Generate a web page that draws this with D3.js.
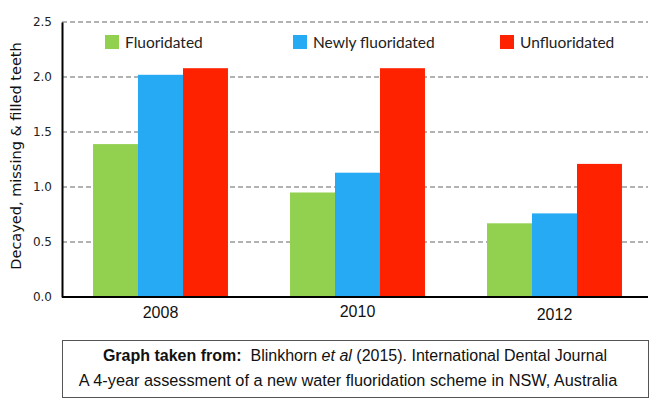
<!DOCTYPE html>
<html>
<head>
<meta charset="utf-8">
<script src="https://cdn.jsdelivr.net/npm/d3@7"></script>
<style>
html,body{margin:0;padding:0;background:#fff;}
svg{display:block;}
</style>
</head>
<body>
<svg id="chart" width="662" height="407"></svg>
<script>
const years = ["2008", "2010", "2012"];
const seriesNames = ["Fluoridated", "Newly fluoridated", "Unfluoridated"];
const fluoridated = [1.39, 0.95, 0.67];
const newlyFluoridated = [2.02, 1.13, 0.76];
const unfluoridated = [2.08, 2.08, 1.21];
const yTicks = [0, 0.5, 1.0, 1.5, 2.0, 2.5];
const colors = ["#92d050", "#27aaf4", "#ff2200"];

const seriesValues = [fluoridated, newlyFluoridated, unfluoridated];

(function () {
const svg = d3.select("#chart");
const mLeft = 62, mRight = 648, mTop = 22, mBottom = 297;

const x = d3.scaleBand().domain(years).range([mLeft, 653]).paddingInner(0.315).paddingOuter(0.1575);
const xs = d3.scaleBand().domain(seriesNames).range([0, x.bandwidth()]);
const y = d3.scaleLinear().domain([0, 2.5]).range([mBottom, mTop]);

// gridlines
svg.append("g").selectAll("line").data(yTicks.filter(d => d > 0)).join("line")
  .attr("x1", mLeft).attr("x2", mRight)
  .attr("y1", d => y(d)).attr("y2", d => y(d))
  .attr("stroke", "#999").attr("stroke-width", 1.5).attr("stroke-dasharray", "5,3");

// bars
const groups = svg.append("g").selectAll("g").data(years).join("g")
  .attr("transform", d => `translate(${x(d)},0)`);
groups.selectAll("rect").data((d, i) => seriesNames.map((s, j) => ({s, v: seriesValues[j][i], j}))).join("rect")
  .attr("x", d => xs(d.s)).attr("width", xs.bandwidth())
  .attr("y", d => y(d.v)).attr("height", d => y(0) - y(d.v))
  .attr("fill", d => colors[d.j]);

// y axis
const yAxis = d3.axisLeft(y).tickValues(yTicks).tickFormat(d3.format(".1f")).tickSize(0).tickPadding(10);
const ya = svg.append("g").attr("transform", `translate(${mLeft},0)`).call(yAxis);
ya.select(".domain").attr("stroke", "#000").attr("stroke-width", 2);
ya.selectAll("text").attr("font-family", "DejaVu Sans, Verdana, sans-serif").attr("font-size", 12).attr("fill", "#222");

// x axis
const yearDy = [0, -1, 2];
const xAxis = d3.axisBottom(x).tickSize(0).tickPadding(10);
const xa = svg.append("g").attr("transform", `translate(0,${mBottom})`).call(xAxis);
xa.select(".domain").attr("stroke", "#000").attr("stroke-width", 2).attr("d", `M${mLeft},0H${mRight}`);
xa.selectAll("text").attr("font-family", "Liberation Sans, Arial, sans-serif").attr("font-size", 16).attr("fill", "#111")
  .attr("transform", (d, i) => `translate(0,${yearDy[i]})`);

// y title
svg.append("text").attr("transform", "translate(21,156) rotate(-90)")
  .attr("text-anchor", "middle").attr("font-family", "DejaVu Sans, Verdana, sans-serif")
  .attr("font-size", 14.5).attr("fill", "#111").text("Decayed, missing & filled teeth");

// legend
const legX = [105, 293, 500];
const leg = svg.append("g").selectAll("g").data(seriesNames).join("g")
  .attr("transform", (d, i) => `translate(${legX[i]},35)`);
leg.append("rect").attr("width", 14).attr("height", 14).attr("fill", (d, i) => colors[i]);
leg.append("text").attr("x", 20).attr("y", 12.5).attr("font-family", "Lato, Open Sans, sans-serif")
  .attr("font-size", 15.5).attr("fill", "#222").text(d => d);

// source box
svg.append("rect").attr("x", 62.5).attr("y", 340.5).attr("width", 586).attr("height", 57)
  .attr("fill", "#fff").attr("stroke", "#555").attr("stroke-width", 1);
const t1 = svg.append("text").attr("x", 355).attr("y", 361).attr("text-anchor", "middle")
  .attr("font-family", "Liberation Sans, Arial, sans-serif").attr("font-size", 16).attr("fill", "#111");
t1.append("tspan").attr("font-weight", "bold").text("Graph taken from:");
t1.append("tspan").text("\u00a0\u00a0Blinkhorn ");
t1.append("tspan").attr("font-style", "italic").text("et al");
t1.append("tspan").text(" (2015). International Dental Journal");
svg.append("text").attr("x", 348).attr("y", 386).attr("text-anchor", "middle")
  .attr("font-family", "Liberation Sans, Arial, sans-serif").attr("font-size", 16.3).attr("fill", "#111")
  .text("A 4-year assessment of a new water fluoridation scheme in NSW, Australia");
})();
</script>
</body>
</html>
